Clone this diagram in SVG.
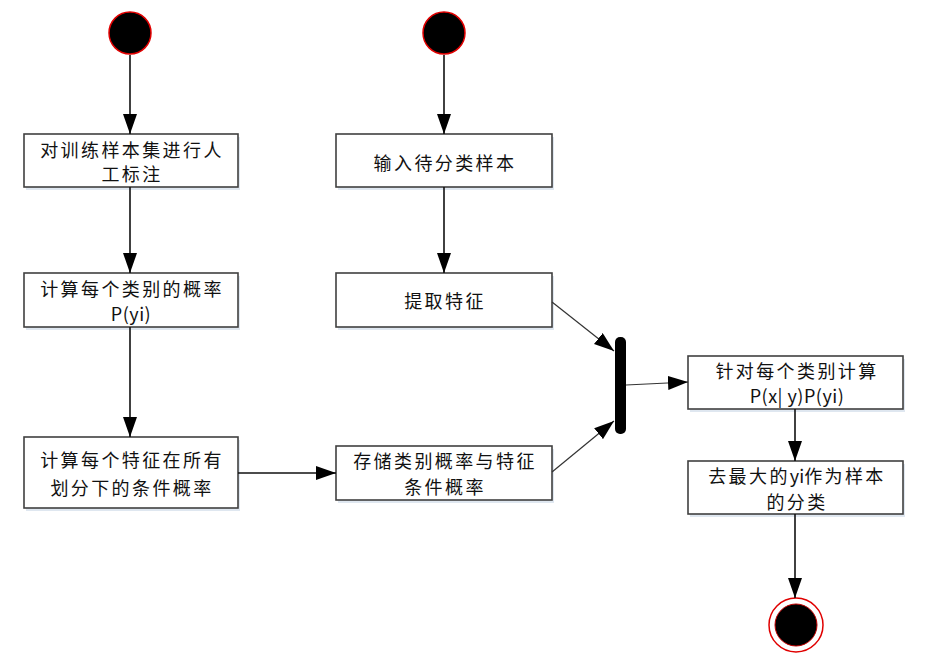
<svg xmlns="http://www.w3.org/2000/svg" width="941" height="661" viewBox="0 0 941 661">
<defs>
<marker id="ah" viewBox="0 0 20 14" refX="20" refY="7" markerWidth="20" markerHeight="14" markerUnits="userSpaceOnUse" orient="auto">
<path d="M0,0 L20,7 L0,14 Z" fill="#000"/>
</marker>
</defs>
<style>
.box{fill:#fff;stroke:#404040;stroke-width:1.6}
.sh{fill:#dfe7f0}
.t{font-family:"Noto Sans CJK SC","Liberation Sans",sans-serif;font-size:18px;letter-spacing:2.4px;fill:#111;text-anchor:middle;dominant-baseline:central}
.l{letter-spacing:0.5px}
.c{stroke:#111;stroke-width:1.6;fill:none;marker-end:url(#ah)}
.d{stroke:#333;stroke-width:1.2;fill:none;marker-end:url(#ah)}
.start{fill:#000;stroke:#e00000;stroke-width:1.5}
</style>
<rect width="941" height="661" fill="#fff"/>
<g id="start1"><circle class="start" cx="130" cy="33" r="21"/></g>
<g id="start2"><circle class="start" cx="444" cy="33" r="21"/></g>
<g id="n1"><rect class="sh" x="26" y="137" width="214" height="53"/><rect class="box" x="24" y="134" width="214" height="53"/><text class="t" x="132" y="149">对训练样本集进行人</text><text class="t" x="132" y="173">工标注</text></g>
<g id="n2"><rect class="sh" x="26" y="276" width="214" height="54"/><rect class="box" x="24" y="273" width="214" height="54"/><text class="t" x="132" y="288">计算每个类别的概率</text><text class="t l" x="131" y="313">P(yi)</text></g>
<g id="n3"><rect class="sh" x="26" y="440" width="214" height="71"/><rect class="box" x="24" y="437" width="214" height="71"/><text class="t" x="132" y="459">计算每个特征在所有</text><text class="t" x="132" y="487">划分下的条件概率</text></g>
<g id="n4"><rect class="sh" x="338" y="137" width="216" height="53"/><rect class="box" x="336" y="134" width="216" height="53"/><text class="t" x="445" y="162">输入待分类样本</text></g>
<g id="n5"><rect class="sh" x="338" y="276" width="216" height="54"/><rect class="box" x="336" y="273" width="216" height="54"/><text class="t" x="445" y="300">提取特征</text></g>
<g id="n6"><rect class="sh" x="338" y="449" width="216" height="54"/><rect class="box" x="336" y="446" width="216" height="54"/><text class="t" x="445" y="460">存储类别概率与特征</text><text class="t" x="445" y="486">条件概率</text></g>
<g id="join"><rect x="615" y="337" width="11" height="97" rx="5" fill="#000"/></g>
<g id="n7"><rect class="sh" x="690" y="359" width="215" height="53"/><rect class="box" x="688" y="356" width="215" height="53"/><text class="t" x="797" y="370">针对每个类别计算</text><text class="t l" x="797" y="395">P(x| y)P(yi)</text></g>
<g id="n8"><rect class="sh" x="690" y="464" width="215" height="53"/><rect class="box" x="688" y="461" width="215" height="53"/><text class="t" x="797" y="475">去最大的<tspan letter-spacing="0">yi</tspan>作为样本</text><text class="t" x="797" y="501">的分类</text></g>
<g id="end"><circle cx="796" cy="625" r="27" fill="#fff" stroke="#e00000" stroke-width="1.5"/><circle cx="796" cy="625" r="21" fill="#000" stroke="#c00000" stroke-width="1"/></g>
<g id="connectors">
<line class="c" x1="130" y1="55" x2="130" y2="134"/>
<line class="c" x1="130" y1="187" x2="130" y2="273"/>
<line class="c" x1="130" y1="327" x2="130" y2="437"/>
<line class="c" x1="238" y1="473" x2="336" y2="473"/>
<line class="c" x1="444" y1="55" x2="444" y2="134"/>
<line class="c" x1="444" y1="187" x2="444" y2="273"/>
<line class="d" x1="552" y1="302" x2="614" y2="351"/>
<line class="d" x1="552" y1="472" x2="614" y2="421"/>
<line class="d" x1="626" y1="385" x2="688" y2="382"/>
<line class="c" x1="795" y1="409" x2="795" y2="461"/>
<line class="c" x1="795" y1="514" x2="795" y2="598"/>
</g>
</svg>
